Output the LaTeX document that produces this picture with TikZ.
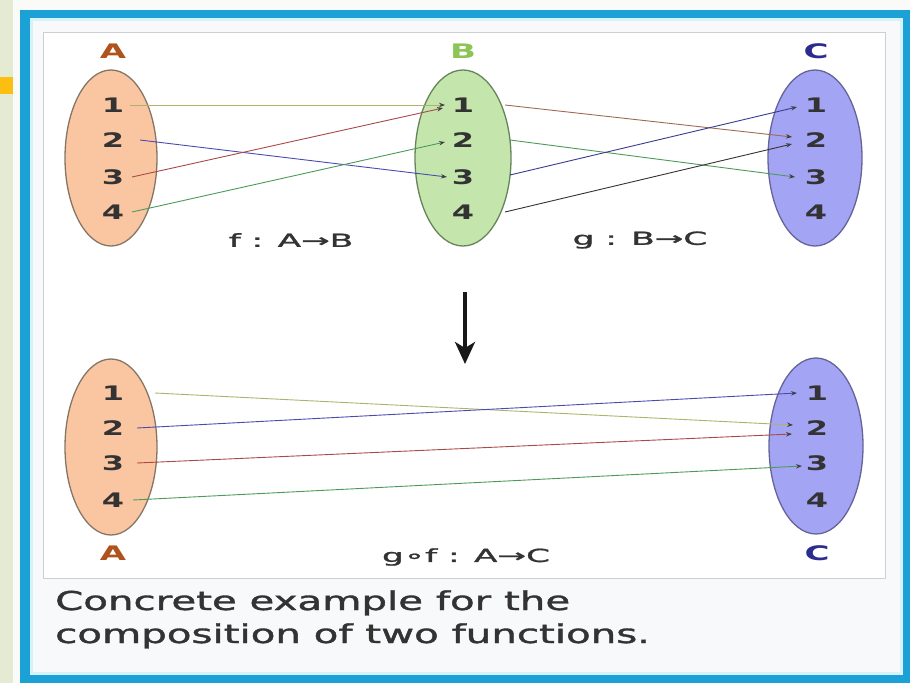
\documentclass[tikz,border=0pt]{standalone}
\usepackage{fontspec}
\usepackage{graphicx}
\setmainfont{DejaVu Sans}
\newfontfamily\semifont[FakeBold=1.2]{DejaVu Sans}
\usetikzlibrary{arrows.meta,shapes.geometric}
\definecolor{bgwhite}{HTML}{FAFBF8}
\definecolor{stripgreen}{HTML}{E5EBD3}
\definecolor{markorange}{HTML}{FDBE12}
\definecolor{frameblue}{HTML}{1BA1D6}
\definecolor{lightcyan}{HTML}{D8F2FA}
\definecolor{panelbg}{HTML}{F8F9FA}
\definecolor{panelline}{HTML}{CDD0D3}
\definecolor{fillA}{HTML}{FAC6A2}
\definecolor{drawA}{HTML}{857565}
\definecolor{fillB}{HTML}{C4E6AC}
\definecolor{drawB}{HTML}{66845A}
\definecolor{fillC}{HTML}{A4A4F4}
\definecolor{drawC}{HTML}{646498}
\definecolor{colA}{HTML}{B0521C}
\definecolor{colB}{HTML}{8CC455}
\definecolor{colC}{HTML}{2C2C8C}
\definecolor{txt}{HTML}{333333}
\definecolor{lnYel}{HTML}{ACB46C}
\definecolor{lnBlue}{HTML}{4A4AB0}
\definecolor{lnRed}{HTML}{A84A48}
\definecolor{lnGreen}{HTML}{4C9A5A}
\definecolor{lnBrown}{HTML}{A06A50}
\definecolor{lnDkBlue}{HTML}{3A3A90}
\definecolor{lnDark}{HTML}{333333}
\newcommand\wx[2]{\scalebox{#1}[1]{#2}}
\begin{document}
\begin{tikzpicture}[x=1pt,y=-1pt,
  setell/.style={ellipse,line width=1.3pt,inner sep=0pt,minimum width=92pt,minimum height=176pt},
  num/.style={inner sep=2pt,text=txt,font=\fontsize{20}{20}\selectfont\bfseries},
  setlab/.style={inner sep=0pt,font=\fontsize{20}{20}\selectfont\bfseries},
  maplab/.style={inner sep=0pt,text=txt,font=\fontsize{18}{18}\semifont},
  caplab/.style={inner sep=0pt,anchor=base west,text=txt,font=\fontsize{26}{26}\semifont},
  conn/.style={line width=0.9pt,-{Stealth[length=6pt,width=4.5pt,color=black!75]}}]
\useasboundingbox (0,0) rectangle (910,683);
% background and frame
\fill[bgwhite] (0,0) rectangle (910,683);
\fill[stripgreen] (0,0) rectangle (13,683);
\fill[markorange] (0,77) rectangle (13,94);
\fill[frameblue] (20,10) rectangle (910,683);
\fill[lightcyan] (30,18) rectangle (903,675);
\fill[panelbg] (33,21) rectangle (900,672);
\draw[panelline,line width=1pt,fill=white] (43,32) rectangle (885,578);
% top sets
\node[setell,draw=drawA,fill=fillA] (EA) at (111,158) {};
\node[setell,draw=drawB,fill=fillB,minimum width=96pt] (EB) at (463,158) {};
\node[setell,draw=drawC,fill=fillC,minimum width=94pt] (EC) at (815,158) {};
\node[setlab,text=colA] (LA) at (113,51) {\wx{1.7}{A}};
\node[setlab,text=colB] (LB) at (463,51) {\wx{1.7}{B}};
\node[setlab,text=colC] (LC) at (816,51) {\wx{1.7}{C}};
\foreach \i/\y in {1/105,2/140,3/177,4/212}{
  \node[num] (a\i) at (113,\y) {\wx{1.6}{\i}};
  \node[num] (b\i) at (463,\y) {\wx{1.6}{\i}};
  \node[num] (c\i) at (816,\y) {\wx{1.6}{\i}};
}
% f : A -> B
\draw[conn,lnYel] ([xshift=17pt]a1.center) -- ([xshift=-18pt]b1.center);
\draw[conn,lnBlue] ([xshift=27pt]a2.center) -- ([xshift=-16pt]b3.center);
\draw[conn,lnRed] ([xshift=19pt]a3.center) -- ([xshift=-20pt,yshift=-3pt]b1.center);
\draw[conn,lnGreen] ([xshift=19pt]a4.center) -- ([xshift=-18pt,yshift=-2pt]b2.center);
% g : B -> C
\draw[conn,lnBrown] ([xshift=42pt]b1.center) -- ([xshift=-24pt,yshift=3pt]c2.center);
\draw[conn,lnGreen] ([xshift=47pt]b2.center) -- ([xshift=-21pt]c3.center);
\draw[conn,lnDkBlue] ([xshift=47pt,yshift=2pt]b3.center) -- ([xshift=-19pt,yshift=-2pt]c1.center);
\draw[conn,lnDark] ([xshift=42pt]b4.center) -- ([xshift=-24pt,yshift=-4pt]c2.center);
\node[maplab] (lf) at (291,240) {\wx{1.9}{f : A→B}};
\node[maplab] (lg) at (640,240) {\wx{1.9}{g : B→C}};
% down arrow
\coordinate (dtop) at (465,292);
\coordinate (dbot) at (465,364);
\draw[line width=3.5pt,black!90,-{Stealth[length=22pt,width=20pt,inset=6pt]}] (dtop) -- (dbot);
% bottom sets
\node[setell,draw=drawA,fill=fillA] (EA2) at (111,447) {};
\node[setell,draw=drawC,fill=fillC,minimum width=94pt] (EC2) at (816,446) {};
\node[setlab,text=colA] (LA2) at (113,553) {\wx{1.7}{A}};
\node[setlab,text=colC] (LC2) at (817,553) {\wx{1.7}{C}};
\foreach \i/\y in {1/393,2/428,3/463,4/500}{
  \node[num] (p\i) at (113,\y) {\wx{1.6}{\i}};
  \node[num] (q\i) at (817,\y) {\wx{1.6}{\i}};
}
\draw[conn,lnYel] ([xshift=42pt]p1.center) -- ([xshift=-24pt,yshift=3pt]q2.center);
\draw[conn,lnBlue] ([xshift=24pt]p2.center) -- ([xshift=-20pt]q1.center);
\draw[conn,lnRed] ([xshift=24pt]p3.center) -- ([xshift=-25pt,yshift=-6pt]q2.center);
\draw[conn,lnGreen] ([xshift=20pt]p4.center) -- ([xshift=-15pt,yshift=-3pt]q3.center);
\node[maplab] (lgf) at (466,557) {\wx{1.9}{g∘f : A→C}};
% caption
\node[caplab] (cap1) at (55,610) {\wx{1.55}{Concrete example for the}};
\node[caplab] (cap2) at (55,643) {\wx{1.55}{composition of two functions.}};
\end{tikzpicture}
\end{document}
